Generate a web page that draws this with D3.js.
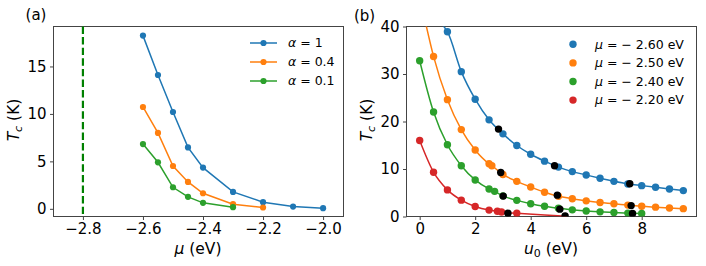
<!DOCTYPE html>
<html>
<head>
<meta charset="utf-8">
<script src="https://cdn.jsdelivr.net/npm/d3@7"></script>
<style>
  body { margin: 0; background: #fff; }
  svg text { font-family: "DejaVu Sans", sans-serif; fill: #000; }
</style>
</head>
<body>
<svg id="fig" width="706" height="266"></svg>
<script>
// ---- panel (a): Tc vs chemical potential ----
const muA = [-2.6, -2.55, -2.5, -2.45, -2.4, -2.3, -2.2, -2.1, -2.0];
const tcAlpha1 = [18.25, 14.1, 10.2, 6.47, 4.34, 1.78, 0.70, 0.24, 0.07];
const tcAlpha04 = [10.73, 8.0, 4.51, 2.83, 1.64, 0.49, 0.14];
const tcAlpha01 = [6.82, 4.9, 2.27, 1.26, 0.63, 0.17];
const alphaLabels = ['1', '0.4', '0.1'];
const muEdge = -2.8;
const xTicksA = [-2.8, -2.6, -2.4, -2.2, -2.0];
const yTicksA = [0, 5, 10, 15];

// ---- panel (b): Tc vs u0 ----
const u0Blue = [1, 1.5, 2, 2.5, 3, 3.5, 4, 4.5, 5, 5.5, 6, 6.5, 7, 7.5, 8, 8.5, 9, 9.5];
const tcBlue = [38.9, 30.5, 24.7, 20.35, 17.4, 14.95, 13.1, 11.65, 10.4, 9.45, 8.75, 8.05, 7.4, 6.85, 6.5, 6.15, 5.8, 5.45];
const u0Orange = [0.5, 1, 1.5, 2, 2.5, 2.6, 3, 3.5, 4, 4.5, 5, 5.5, 6, 6.5, 7, 7.5, 8, 8.5, 9, 9.5];
const tcOrange = [33.7, 24.6, 18.3, 14.0, 11.1, 10.7, 8.85, 7.4, 6.2, 5.1, 4.25, 3.75, 3.3, 2.95, 2.7, 2.4, 2.15, 1.97, 1.8, 1.65];
const u0Green = [0, 0.5, 1, 1.5, 2, 2.5, 2.7, 3, 3.5, 4, 4.5, 5, 5.5, 6, 6.5, 7, 7.5, 8];
const tcGreen = [32.8, 22.0, 15.1, 10.7, 7.7, 5.8, 5.3, 4.35, 3.4, 2.7, 2.15, 1.75, 1.4, 1.17, 0.98, 0.85, 0.72, 0.65];
const u0Red = [0, 0.5, 1, 1.5, 2, 2.5, 2.8, 2.95, 3.5];
const tcRed = [16.0, 9.33, 5.6, 3.44, 2.1, 1.35, 1.1, 0.95, 0.7];
// where the fitted curves leave the points
const curveHeadBlue = [[0.83, 40.3]];
const curveHeadOrange = [[0.23, 40.3]];
const curveTailRed = [[4.5, 0.3], [5.3, 0.05]];
// black markers
const blackU0 = [2.84, 4.86, 7.57, 2.92, 4.96, 7.62, 3.01, 5.05, 7.67, 3.18, 5.24];
const blackTc = [18.4, 10.7, 6.9, 9.25, 4.5, 2.3, 4.3, 1.55, 0.65, 0.7, 0.1];
const muLabels = ['2.60', '2.50', '2.40', '2.20'];
const xTicksB = [0, 2, 4, 6, 8];
const yTicksB = [0, 10, 20, 30, 40];

const colors = ['#1f77b4', '#ff7f0e', '#2ca02c', '#d62728'];

const svg = d3.select('#fig');
const W = 290, H = 190;

function frame(g, x, y, xt, yt, fmtX, fmtY) {
  const xa = g.append('g').attr('transform', `translate(0,${H})`)
    .call(d3.axisBottom(x).tickValues(xt).tickFormat(fmtX).tickSize(3.5).tickPadding(3.5).tickSizeOuter(0));
  const ya = g.append('g')
    .call(d3.axisLeft(y).tickValues(yt).tickFormat(fmtY).tickSize(3.5).tickPadding(3.5).tickSizeOuter(0));
  [xa, ya].forEach(a => {
    a.select('.domain').remove();
    a.selectAll('line').attr('stroke', '#444');
    a.selectAll('text').style('font-size', '15px').attr('fill', '#000');
  });
  g.append('rect').attr('width', W).attr('height', H)
    .attr('fill', 'none').attr('stroke', '#444').attr('stroke-width', 1);
}

function yLabel(g, x, y) {
  const t = g.append('text').attr('transform', `translate(${x},${y}) rotate(-90)`)
    .attr('text-anchor', 'middle').style('font-size', '15.5px');
  t.append('tspan').attr('font-style', 'italic').text('T');
  t.append('tspan').attr('font-style', 'italic').attr('dy', 3).style('font-size', '11px').text('c');
  t.append('tspan').attr('dy', -3).text(' (K)');
}

// ================= panel (a) =================
const ga = svg.append('g').attr('transform', 'translate(53.5,26.5)');
const xa = d3.scaleLinear().domain([-2.898, -1.932]).range([0, W]);
const ya = d3.scaleLinear().domain([-0.81, 19.21]).range([H, 0]);
frame(ga, xa, ya, xTicksA, yTicksA, d3.format('.1f'), d3.format('d'));

ga.append('line')
  .attr('x1', xa(muEdge)).attr('x2', xa(muEdge)).attr('y1', 0).attr('y2', H)
  .attr('stroke', '#008000').attr('stroke-width', 2.2).attr('stroke-dasharray', '7.4,3.2');

const seriesA = [tcAlpha1, tcAlpha04, tcAlpha01].map((tc, i) =>
  ({ color: colors[i], pts: tc.map((v, j) => [muA[j], v]) }));
const lineA = d3.line().x(d => xa(d[0])).y(d => ya(d[1]));
seriesA.forEach(s => {
  ga.append('path').attr('d', lineA(s.pts)).attr('fill', 'none')
    .attr('stroke', s.color).attr('stroke-width', 1.5);
  ga.selectAll(null).data(s.pts).join('circle')
    .attr('cx', d => xa(d[0])).attr('cy', d => ya(d[1])).attr('r', 3.1).attr('fill', s.color);
});

const legA = ga.append('g').attr('transform', 'translate(196.5,16.5)');
alphaLabels.forEach((lab, i) => {
  const row = legA.append('g').attr('transform', `translate(0,${i * 19})`);
  row.append('line').attr('x1', 0).attr('x2', 27).attr('stroke', colors[i]).attr('stroke-width', 1.5);
  row.append('circle').attr('cx', 13.5).attr('r', 3.1).attr('fill', colors[i]);
  const t = row.append('text').attr('x', 38).attr('dy', '0.35em').style('font-size', '12.5px');
  t.append('tspan').attr('font-style', 'italic').text('α');
  t.append('tspan').text(' = ' + lab);
});

yLabel(svg, 18.5, 120);
svg.append('text').attr('x', 198).attr('y', 254).attr('text-anchor', 'middle').style('font-size', '15.5px')
  .call(t => { t.append('tspan').attr('font-style', 'italic').text('μ'); t.append('tspan').text(' (eV)'); });
svg.append('text').attr('x', 36).attr('y', 19.5).attr('text-anchor', 'middle').style('font-size', '15px').text('(a)');

// ================= panel (b) =================
const gb = svg.append('g').attr('transform', 'translate(406.5,26.5)');
const xb = d3.scaleLinear().domain([-0.475, 9.975]).range([0, W]);
const yb = d3.scaleLinear().domain([0, 40]).range([H, 0]);
frame(gb, xb, yb, xTicksB, yTicksB, d3.format('d'), d3.format('d'));

gb.append('clipPath').attr('id', 'clipB').append('rect').attr('width', W).attr('height', H);
const plotB = gb.append('g').attr('clip-path', 'url(#clipB)');

const zip = (u, t) => u.map((v, j) => [v, t[j]]);
const seriesB = [
  { color: colors[0], pts: zip(u0Blue, tcBlue), head: curveHeadBlue, tail: [] },
  { color: colors[1], pts: zip(u0Orange, tcOrange), head: curveHeadOrange, tail: [] },
  { color: colors[2], pts: zip(u0Green, tcGreen), head: [], tail: [] },
  { color: colors[3], pts: zip(u0Red, tcRed), head: [], tail: curveTailRed }
];
const lineB = d3.line().x(d => xb(d[0])).y(d => yb(d[1])).curve(d3.curveMonotoneX);
seriesB.forEach(s => {
  plotB.append('path').attr('d', lineB(s.head.concat(s.pts, s.tail))).attr('fill', 'none')
    .attr('stroke', s.color).attr('stroke-width', 1.5);
});
seriesB.forEach(s => {
  plotB.selectAll(null).data(s.pts).join('circle')
    .attr('cx', d => xb(d[0])).attr('cy', d => yb(d[1])).attr('r', 3.7).attr('fill', s.color);
});
plotB.selectAll(null).data(zip(blackU0, blackTc)).join('circle')
  .attr('cx', d => xb(d[0])).attr('cy', d => yb(d[1])).attr('r', 3.7).attr('fill', '#000');

const legB = gb.append('g').attr('transform', 'translate(166.5,17.8)');
muLabels.forEach((lab, i) => {
  const row = legB.append('g').attr('transform', `translate(0,${i * 18.6})`);
  row.append('circle').attr('cx', 0).attr('r', 3.7).attr('fill', colors[i]);
  const t = row.append('text').attr('x', 22).attr('dy', '0.35em').style('font-size', '12.5px');
  t.append('tspan').attr('font-style', 'italic').text('μ');
  t.append('tspan').text(' = − ' + lab + ' eV');
});

yLabel(svg, 371.5, 120);
svg.append('text').attr('x', 551).attr('y', 254).attr('text-anchor', 'middle').style('font-size', '15.5px')
  .call(t => {
    t.append('tspan').attr('font-style', 'italic').text('u');
    t.append('tspan').attr('dy', 3).style('font-size', '11px').text('0');
    t.append('tspan').attr('dy', -3).text(' (eV)');
  });
svg.append('text').attr('x', 364.5).attr('y', 20.5).attr('text-anchor', 'middle').style('font-size', '15px').text('(b)');
</script>
</body>
</html>
